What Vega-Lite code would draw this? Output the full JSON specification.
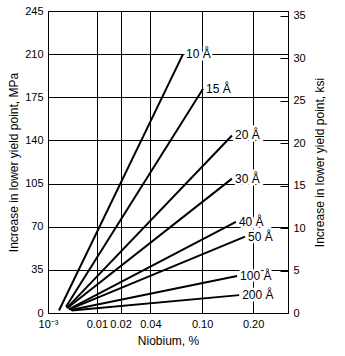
{
  "$schema": "https://vega.github.io/schema/vega-lite/v6.json",
  "width": 240,
  "height": 302,
  "autosize": "none",
  "padding": {"left": 48, "top": 11, "right": 57, "bottom": 43},
  "background": "white",
  "config": {
    "font": "Liberation Sans",
    "view": {"stroke": "black", "strokeWidth": 1},
    "axis": {
      "labelColor": "black",
      "titleColor": "black",
      "titleFontWeight": "normal",
      "labelFontSize": 11,
      "titleFontSize": 12,
      "gridColor": "black",
      "gridOpacity": 1,
      "gridWidth": 1,
      "domain": false
    }
  },
  "data": {
    "values": [
      {"label": "10 Å", "nb": 0.0020, "mpa": 2, "end": false},
      {"label": "10 Å", "nb": 0.0736, "mpa": 210, "end": true},
      {"label": "15 Å", "nb": 0.0029, "mpa": 5, "end": false},
      {"label": "15 Å", "nb": 0.1015, "mpa": 182, "end": true},
      {"label": "20 Å", "nb": 0.0030, "mpa": 4, "end": false},
      {"label": "20 Å", "nb": 0.153, "mpa": 144, "end": true},
      {"label": "30 Å", "nb": 0.0031, "mpa": 4, "end": false},
      {"label": "30 Å", "nb": 0.153, "mpa": 109, "end": true},
      {"label": "40 Å", "nb": 0.0033, "mpa": 3, "end": false},
      {"label": "40 Å", "nb": 0.161, "mpa": 74, "end": true},
      {"label": "50 Å", "nb": 0.0034, "mpa": 3, "end": false},
      {"label": "50 Å", "nb": 0.181, "mpa": 62, "end": true},
      {"label": "100 Å", "nb": 0.0036, "mpa": 2.5, "end": false},
      {"label": "100 Å", "nb": 0.1635, "mpa": 30, "end": true},
      {"label": "200 Å", "nb": 0.0038, "mpa": 2, "end": false},
      {"label": "200 Å", "nb": 0.168, "mpa": 14.5, "end": true}
    ]
  },
  "encoding": {
    "x": {
      "field": "nb",
      "type": "quantitative",
      "scale": {"type": "pow", "exponent": 0.333333, "domain": [0.001, 0.297], "nice": false, "zero": false},
      "axis": {
        "title": "Niobium, %",
        "values": [0.001, 0.01, 0.02, 0.04, 0.1, 0.2],
        "labelExpr": "datum.value < 0.005 ? '10⁻³' : format(datum.value, '.2f')",
        "grid": true,
        "ticks": false,
        "labelFlush": false,
        "labelOverlap": false,
        "labelPadding": 5,
        "titlePadding": 6
      }
    }
  },
  "layer": [
    {
      "mark": {"type": "line", "color": "black", "strokeWidth": 2},
      "encoding": {
        "detail": {"field": "label"},
        "y": {
          "field": "mpa",
          "type": "quantitative",
          "scale": {"domain": [0, 245], "nice": false, "zero": false},
          "axis": {
            "orient": "left",
            "title": "Increase in lower yield point, MPa",
            "values": [0, 35, 70, 105, 140, 175, 210, 245],
            "grid": true,
            "ticks": false,
            "labelPadding": 5,
            "titlePadding": 4
          }
        }
      }
    },
    {
      "transform": [{"filter": "datum.end"}],
      "mark": {"type": "text", "align": "left", "baseline": "middle", "dx": 3, "fontSize": 12, "stroke": "white", "strokeWidth": 5, "fill": "white"},
      "encoding": {
        "text": {"field": "label"},
        "y": {"field": "mpa", "type": "quantitative", "axis": null}
      }
    },
    {
      "transform": [{"filter": "datum.end"}],
      "mark": {"type": "text", "align": "left", "baseline": "middle", "dx": 3, "fontSize": 12, "color": "black"},
      "encoding": {
        "text": {"field": "label"},
        "y": {
          "field": "mpa",
          "type": "quantitative",
          "axis": {
            "orient": "right",
            "title": "Increase in lower yield point, ksi",
            "titleAngle": 270,
            "values": [0, 34.474, 68.948, 103.421, 137.895, 172.369, 206.843, 241.317],
            "labelExpr": "format(datum.value / 6.8948, '.0f')",
            "grid": false,
            "ticks": true,
            "tickColor": "black",
            "tickSize": -8,
            "labelPadding": 13,
            "titlePadding": 21
          }
        }
      }
    }
  ],
  "resolve": {"axis": {"y": "independent"}}
}
